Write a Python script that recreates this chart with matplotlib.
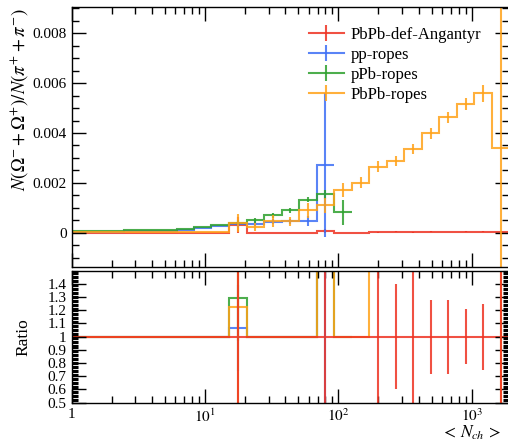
import matplotlib
matplotlib.use("Agg")
import matplotlib.pyplot as plt
from matplotlib.ticker import FixedLocator, MultipleLocator, LogLocator, NullFormatter
from matplotlib.lines import Line2D
import numpy as np

plt.rcParams['font.family'] = ['Liberation Serif', 'DejaVu Serif']
plt.rcParams['mathtext.fontset'] = 'stix'

# bin edges in <N_ch>
edges = [1.0, 1.353, 1.83, 2.48, 3.35, 4.53, 6.13, 8.30, 11.2, 15.2, 20.6, 27.8,
         37.6, 50.9, 68.9, 93.2, 126, 171, 231, 312, 423, 572, 774, 1047, 1417, 1917]

# PbPb-def-Angantyr
red_vals = [0, 0, 0, 0, 0, 0, 0, 0, 0, 0.00031, 0, 0, 0, 0, 0.00008, 0, 0,
            0.00002, 0.00004, 0.00002, 0.00004, 0.00003, 0.00004, 0.00004, 0.00003]
red_rel = [0, 0, 0, 0, 0, 0, 0, 0, 0, 1.0, 0, 0, 0, 0, 1.0, 0, 0,
           1.0, 0.4, 1.0, 0.28, 0.28, 0.21, 0.25, 1.0]

# pp-ropes
blue_vals = [0.00004, 0.00004, 0.00004, 0.00008, 0.00008, 0.00008, 0.00011, 0.0002,
             0.00027, 0.00033, 0.00036, 0.00043, 0.00046, 0.00047, 0.00271]
blue_err = [0, 0, 0, 0, 0, 0, 0, 0, 0, 0.0001, 0.0001, 0.0001, 0.0001, 0.0002, 0.00288]

# pPb-ropes
green_vals = [0.00006, 0.00006, 0.00006, 0.0001, 0.00012, 0.00012, 0.00016, 0.00024,
              0.00031, 0.0004, 0.0005, 0.0007, 0.0009, 0.00133, 0.00154, 0.00081]
green_err = [0, 0, 0, 0, 0, 0, 0, 0, 0, 0.0001, 0.0001, 0.0001, 0.0001, 0.00012,
             0.00019, 0.00049]

# PbPb-ropes
orange_vals = [0.00002, 0.00002, 0.00002, 0.00002, 0.00002, 0.00002, 0.00002, 0.00002,
               0.00002, 0.00038, 0.00022, 0.00046, 0.00045, 0.00089, 0.0011, 0.00171,
               0.002, 0.00265, 0.00288, 0.00336, 0.00399, 0.00463, 0.00516, 0.00559,
               0.00341]
orange_err = [0, 0, 0, 0, 0, 0, 0, 0, 0, 0.00035, 0.00015, 0.00025, 0.00019, 0.0003,
              0.0003, 0.00027, 0.00022, 0.00023, 0.00021, 0.0002, 0.00023, 0.00022,
              0.00023, 0.00033, 0.012]

labels = ['PbPb-def-Angantyr', 'pp-ropes', 'pPb-ropes', 'PbPb-ropes']
colors = ['#EE3322', '#3D6FF5', '#2EA02E', '#FFA21A']

edges = np.array(edges)
centers = np.sqrt(edges[:-1] * edges[1:])
red_vals = np.array(red_vals)
red_err = red_vals * np.array(red_rel)

series = [
    (red_vals, red_err),
    (np.array(blue_vals), np.array(blue_err)),
    (np.array(green_vals), np.array(green_err)),
    (np.array(orange_vals), np.array(orange_err)),
]

W, H = 508, 442
fig = plt.figure(figsize=(W / 100, H / 100), dpi=100)
x0 = 71.5 / W
w = (509.4 - 71.5) / W
ax = fig.add_axes([x0, 1 - 267 / H, w, (267 - 7) / H])
rax = fig.add_axes([x0, 1 - 402.7 / H, w, (402.7 - 270.5) / H])

lw = 1.5
alpha = 0.85
# main panel: red first, then blue, green, orange
for (vals, err), c in zip(series, colors):
    n = len(vals)
    ax.stairs(vals, edges[:n + 1], baseline=None, color=c, lw=lw, alpha=alpha)
    m = err > 0
    ax.errorbar(centers[:n][m], vals[m], yerr=err[m], fmt='none', ecolor=c,
                elinewidth=lw, alpha=alpha, capsize=0)

# ratio panel, reference = PbPb-def-Angantyr; draw red last
order = [1, 2, 3, 0]
for i in order:
    vals, err = series[i]
    c = colors[i]
    n = len(vals)
    ref = red_vals[:n]
    safe = np.where(ref > 0, ref, 1)
    ratio = np.where(ref > 0, vals / safe, 1.0)
    rerr = np.where(ref > 0, err / safe, 0.0)
    rax.stairs(ratio, edges[:n + 1], baseline=None, color=c, lw=lw, alpha=alpha)
    m = rerr > 0
    rax.errorbar(centers[:n][m], ratio[m], yerr=rerr[m], fmt='none',
                 ecolor=c, elinewidth=lw, alpha=alpha, capsize=0)

for a in (ax, rax):
    a.set_xscale('log')
    a.set_xlim(edges[0], edges[-1])
    a.xaxis.set_major_locator(LogLocator(base=10))
    a.xaxis.set_minor_locator(LogLocator(base=10, subs=np.arange(2, 10)))
    a.xaxis.set_minor_formatter(NullFormatter())
    a.tick_params(which='both', direction='in', top=True, right=True, width=1.0,
                  labelsize=11)
    a.tick_params(which='major', length=10)
    a.tick_params(which='minor', length=5)
    for s in a.spines.values():
        s.set_linewidth(1.0)

ax.set_ylim(-0.00138, 0.00906)
ax.yaxis.set_major_locator(FixedLocator([0, 0.002, 0.004, 0.006, 0.008]))
ax.set_yticklabels(['0', '0.002', '0.004', '0.006', '0.008'])
ax.yaxis.set_minor_locator(MultipleLocator(0.0005))
ax.tick_params(axis='x', labelbottom=False)

rax.set_ylim(0.5, 1.5)
rticks = [0.5, 0.6, 0.7, 0.8, 0.9, 1.0, 1.1, 1.2, 1.3, 1.4]
rax.yaxis.set_major_locator(FixedLocator(rticks))
rax.set_yticklabels(['0.5', '0.6', '0.7', '0.8', '0.9', '1', '1.1', '1.2', '1.3', '1.4'])
rax.yaxis.set_minor_locator(MultipleLocator(0.01))
rax.tick_params(axis='y', which='minor', length=4, width=0.8)
rax.set_xticks([1, 10, 100, 1000])
rax.set_xticklabels(['1', '$10^{1}$', '$10^{2}$', '$10^{3}$'])

handles = [Line2D([], [], color=c, lw=lw, alpha=alpha, marker='|', markersize=11,
                  markeredgewidth=lw) for c in colors]
ax.legend(handles, labels, loc='upper left',
          bbox_to_anchor=((302 - 71.5) / (509.4 - 71.5), 0.95),
          frameon=False, fontsize=12, numpoints=1, handlelength=2.1,
          handletextpad=0.4, labelspacing=0.25, borderaxespad=0)

fig.text(20 / W, 1 - 8 / H, r'$N(\Omega^{-}+\Omega^{+})/N(\pi^{+}+\pi^{-})$',
         rotation=90, ha='center', va='top', fontsize=13.5)
fig.text(23 / W, 1 - 337 / H, 'Ratio', rotation=90, ha='center', va='center',
         fontsize=12.5)
fig.text(501 / W, 1 - 433 / H, r'$<\,N_{ch}\,>$', ha='right', va='center', fontsize=12.5)

fig.savefig('out.png', dpi=100)
